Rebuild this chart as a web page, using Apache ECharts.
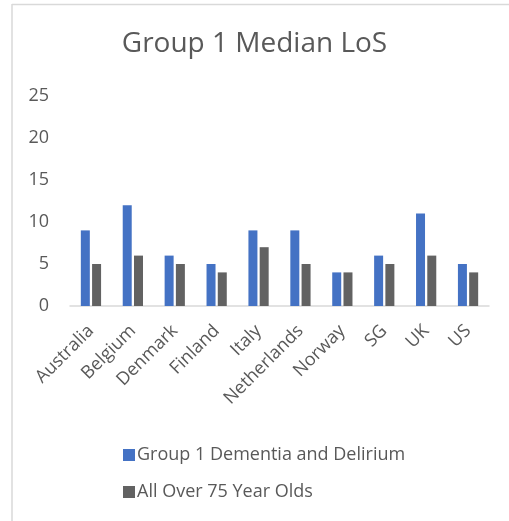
<!DOCTYPE html>
<html>
<head>
<meta charset="utf-8">
<script src="https://cdn.jsdelivr.net/npm/echarts@6/dist/echarts.min.js"></script>
<style>
  html, body { margin: 0; padding: 0; background: #fff; }
  #chart { width: 509px; height: 521px; }
</style>
</head>
<body>
<div id="chart"></div>
<script>
const countries = ['Australia', 'Belgium', 'Denmark', 'Finland', 'Italy', 'Netherlands', 'Norway', 'SG', 'UK', 'US']
const dementiaLoS = [9, 12, 6, 5, 9, 9, 4, 6, 11, 5]
const over75LoS = [5, 6, 5, 4, 7, 5, 4, 5, 6, 4]
const yTicks = [0, 5, 10, 15, 20, 25]

const font = '"Open Sans", "Noto Sans", sans-serif'
const chart = echarts.init(document.getElementById('chart'))

chart.setOption({
  backgroundColor: '#fff',
  animation: false,
  textStyle: { fontFamily: font },
  title: {
    text: 'Group 1 Median LoS',
    left: 'center',
    top: 25,
    textStyle: { fontFamily: font, fontSize: 28, fontWeight: 'normal', color: '#595959' }
  },
  graphic: [
    { type: 'line', shape: { x1: 12, y1: 4.5, x2: 509, y2: 4.5 }, style: { stroke: '#d9d9d9', lineWidth: 1.5 } },
    { type: 'line', shape: { x1: 12, y1: 4, x2: 12, y2: 521 }, style: { stroke: '#d9d9d9', lineWidth: 1.5 } }
  ],
  legend: {
    orient: 'vertical',
    left: 118,
    top: 441,
    itemGap: 19,
    itemWidth: 12,
    itemHeight: 12,
    icon: 'rect',
    textStyle: { fontFamily: font, fontSize: 18, color: '#595959', padding: [0, 0, 0, -3] }
  },
  grid: { left: 70, right: 20, top: 96, bottom: 215, containLabel: false },
  xAxis: {
    type: 'category',
    data: countries,
    axisLine: { lineStyle: { color: '#d9d9d9', width: 1.5 } },
    axisTick: { show: false },
    axisLabel: { rotate: 45, color: '#595959', fontSize: 18, fontFamily: font, interval: 0, margin: 22 }
  },
  yAxis: {
    type: 'value',
    min: yTicks[0],
    max: yTicks[yTicks.length - 1],
    interval: yTicks[1] - yTicks[0],
    axisLine: { show: false },
    axisTick: { show: false },
    splitLine: { show: false },
    axisLabel: { color: '#595959', fontSize: 18, fontFamily: font, margin: 21 }
  },
  series: [
    {
      name: 'Group 1 Dementia and Delirium',
      type: 'bar',
      data: dementiaLoS,
      barWidth: 9,
      barGap: '25%',
      itemStyle: { color: '#4472c4' }
    },
    {
      name: 'All Over 75 Year Olds',
      type: 'bar',
      data: over75LoS,
      barWidth: 9,
      itemStyle: { color: '#626262' }
    }
  ]
})
</script>
</body>
</html>
